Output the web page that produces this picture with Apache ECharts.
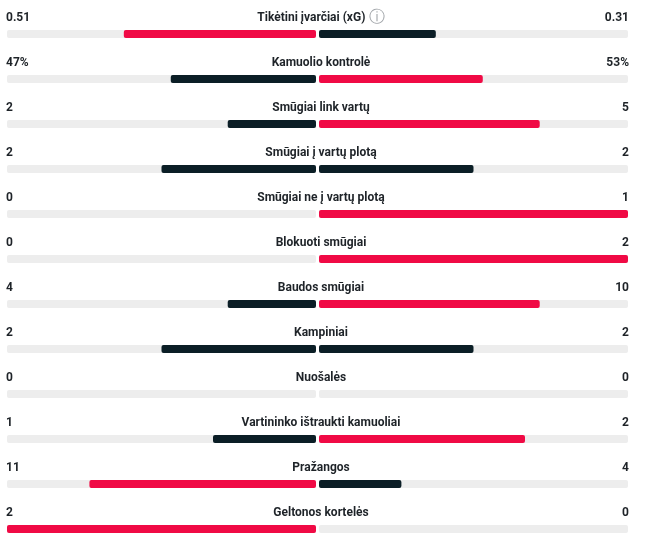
<!DOCTYPE html>
<html>
<head>
<meta charset="utf-8">
<script src="https://cdn.jsdelivr.net/npm/echarts@6/dist/echarts.min.js"></script>
<style>
  html, body { margin: 0; padding: 0; background: #fff; }
  #chart { width: 645px; height: 544px; }
</style>
</head>
<body>
<div id="chart"></div>
<script>
// match stats, home on the left, away on the right
const statNames = [
  'Tikėtini įvarčiai (xG)',
  'Kamuolio kontrolė',
  'Smūgiai link vartų',
  'Smūgiai į vartų plotą',
  'Smūgiai ne į vartų plotą',
  'Blokuoti smūgiai',
  'Baudos smūgiai',
  'Kampiniai',
  'Nuošalės',
  'Vartininko ištraukti kamuoliai',
  'Pražangos',
  'Geltonos kortelės'
]
const homeValues = [0.51, 47, 2, 2, 0, 0, 4, 2, 0, 1, 11, 2]
const awayValues = [0.31, 53, 5, 2, 1, 2, 10, 2, 0, 2, 4, 0]
const homeLabels = ['0.51', '47%', '2', '2', '0', '0', '4', '2', '0', '1', '11', '2']
const awayLabels = ['0.31', '53%', '5', '2', '1', '2', '10', '2', '0', '2', '4', '0']

const RED = '#f00a45'
const DARK = '#0b1e26'
const TRACK = '#ededed'
const TEXT = '#1e2328'
const FONT = 'bold 12px Roboto, "Noto Sans", sans-serif'

const rowH = 45
const barTop = 30
const barH = 8

const grids = []
const xAxes = []
const yAxes = []
const series = []
const texts = []

statNames.forEach(function (name, i) {
  const h = homeValues[i]
  const a = awayValues[i]
  const sum = h + a
  const hShare = sum ? h / sum : 0
  const aShare = sum ? a / sum : 0
  const hColor = h > a ? RED : DARK
  const aColor = a > h ? RED : DARK
  const top = barTop + rowH * i

  // left half (grows leftwards) and right half
  grids.push({ left: 7, width: 309, top: top, height: barH })
  grids.push({ left: 319, width: 309, top: top, height: barH })
  ;[0, 1].forEach(function (side) {
    const idx = i * 2 + side
    xAxes.push({ gridIndex: idx, type: 'value', min: 0, max: 1, inverse: side === 0, show: false })
    yAxes.push({ gridIndex: idx, type: 'category', data: [name], show: false })
    series.push({
      type: 'bar',
      xAxisIndex: idx,
      yAxisIndex: idx,
      barWidth: barH,
      silent: true,
      showBackground: true,
      backgroundStyle: { color: TRACK, borderRadius: 2 },
      itemStyle: { color: side === 0 ? hColor : aColor, borderRadius: 2 },
      data: [side === 0 ? hShare : aShare]
    })
  })

  const ty = 18 + rowH * i
  texts.push({
    type: 'text', x: 321, y: ty, silent: true,
    style: {
      text: '{t|' + name + '}' + (i === 0 ? ' {info|ⓘ}' : ''),
      textAlign: 'center', textVerticalAlign: 'middle',
      rich: {
        t: { font: FONT, fill: TEXT },
        info: { font: '16px "DejaVu Sans"', fill: '#a0a4a8' }
      }
    }
  })
  texts.push({
    type: 'text', x: 6, y: ty, silent: true,
    style: { text: homeLabels[i], textAlign: 'left', textVerticalAlign: 'middle', font: FONT, fill: TEXT }
  })
  texts.push({
    type: 'text', x: 629, y: ty, silent: true,
    style: { text: awayLabels[i], textAlign: 'right', textVerticalAlign: 'middle', font: FONT, fill: TEXT }
  })
})

const chart = echarts.init(document.getElementById('chart'))
chart.setOption({
  animation: false,
  grid: grids,
  xAxis: xAxes,
  yAxis: yAxes,
  series: series,
  graphic: texts
})
</script>
</body>
</html>
